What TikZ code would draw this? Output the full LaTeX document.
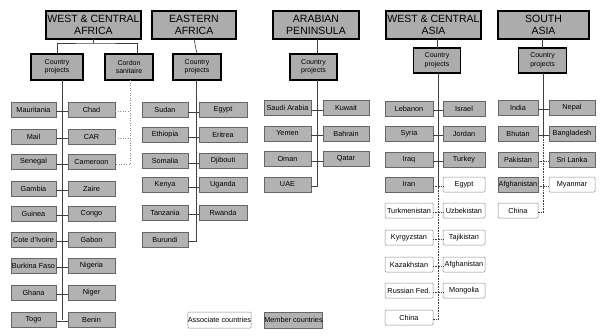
\documentclass[tikz,border=0pt]{standalone}
\usepackage{fontspec}
\setmainfont{Liberation Sans}
\begin{document}
\begin{tikzpicture}[x=1pt,y=-1pt,
  every node/.style={inner sep=0pt, outer sep=0pt},
  header/.style={draw=black, line width=1.4pt, fill=gray!65, align=center,
    minimum height=28pt, font=\fontsize{10.5}{11.5}\selectfont},
  cproj/.style={draw=black, line width=1.2pt, fill=gray!65, align=center,
    minimum height=26pt, font=\fontsize{7}{8.5}\selectfont},
  mem/.style={draw=black!60, line width=0.5pt, fill=gray!60, minimum height=15pt,
    font=\fontsize{7.3}{8}\selectfont},
  assoc/.style={draw=black!45, line width=0.5pt, fill=white, rounded corners=1pt,
    minimum height=15pt, font=\fontsize{7.3}{8}\selectfont},
  link/.style={draw=black!75, line width=0.6pt},
  dots/.style={draw=black!75, line width=0.6pt, densely dotted},
  lightdots/.style={draw=black!45, line width=0.5pt, dotted},
  ca/.style={minimum width=45pt}, cb/.style={minimum width=47pt},
  cc/.style={minimum width=46pt}, cd/.style={minimum width=48pt},
  ce/.style={minimum width=47pt}, cf/.style={minimum width=46pt},
  cg/.style={minimum width=48pt}, ch/.style={minimum width=42pt},
  ci/.style={minimum width=40pt}, cj/.style={minimum width=46pt}]
\useasboundingbox (0,0) rectangle (600,335);

% headers
\node[header, minimum width=95pt] (h1) at (93.5,25) {WEST \& CENTRAL\\AFRICA};
\node[header, minimum width=84pt] (h2) at (194,25) {EASTERN\\AFRICA};
\node[header, minimum width=86pt] (h3) at (316,25) {ARABIAN\\PENINSULA};
\node[header, minimum width=95pt] (h4) at (433.5,25) {WEST \& CENTRAL\\ASIA};
\node[header, minimum width=91pt] (h5) at (543.5,25) {SOUTH\\ASIA};

% country projects
\node[cproj, minimum width=52pt] (cp1) at (57,67) {Country\\projects};
\node[cproj, minimum width=48pt] (cs1) at (129,67) {Cordon\\sanitaire};
\node[cproj, minimum width=48pt] (cp2) at (197,67) {Country\\projects};
\node[cproj, minimum width=47pt] (cp3) at (313.5,67) {Country\\projects};
\node[cproj, minimum width=47pt, minimum height=25pt] (cp4) at (437,60.5) {Country\\projects};
\node[cproj, minimum width=48pt, minimum height=25pt] (cp5) at (542.5,60.5) {Country\\projects};

% West & Central Africa
\node[mem,ca] (mauritania) at (33.5,109.5) {Mauritania};
\node[mem,ca] (mail) at (33.5,136.5) {Mail};
\node[mem,ca] (senegal) at (33.5,162) {Senegal};
\node[mem,ca] (gambia) at (33.5,188.5) {Gambia};
\node[mem,ca] (guinea) at (33.5,213.5) {Guinea};
\node[mem,ca] (cote) at (33.5,239.5) {Cote d'Ivoire};
\node[mem,ca] (burkina) at (33.5,265.5) {Burkina Faso};
\node[mem,ca] (ghana) at (33.5,292.5) {Ghana};
\node[mem,ca] (togo) at (33.5,319.5) {Togo};
\node[mem,cb] (chad) at (91.5,109.5) {Chad};
\node[mem,cb] (car) at (91.5,136.5) {CAR};
\node[mem,cb] (cameroon) at (91.5,162) {Cameroon};
\node[mem,cb] (zaire) at (91.5,188.5) {Zaire};
\node[mem,cb] (congo) at (91.5,213.5) {Congo};
\node[mem,cb] (gabon) at (91.5,239.5) {Gabon};
\node[mem,cb] (nigeria) at (91.5,265.5) {Nigeria};
\node[mem,cb] (niger) at (91.5,292.5) {Niger};
\node[mem,cb] (benin) at (91.5,319.5) {Benin};

% Eastern Africa
\node[mem,cc] (sudan) at (165,110) {Sudan};
\node[mem,cc] (ethiopia) at (165,135) {Ethiopia};
\node[mem,cc] (somalia) at (165,161) {Somalia};
\node[mem,cc] (kenya) at (165,185) {Kenya};
\node[mem,cc] (tanzania) at (165,212.5) {Tanzania};
\node[mem,cc] (burundi) at (165,239.5) {Burundi};
\node[mem,cd] (egypt) at (223,110) {Egypt};
\node[mem,cd] (eritrea) at (223,135) {Eritrea};
\node[mem,cd] (djibouti) at (223,161) {Djibouti};
\node[mem,cd] (uganda) at (223,185) {Uganda};
\node[mem,cd] (rwanda) at (223,212.5) {Rwanda};

% Arabian Peninsula
\node[mem,ce] (saudi) at (287.5,108) {Saudi Arabia};
\node[mem,ce] (yemen) at (287.5,133.5) {Yemen};
\node[mem,ce] (oman) at (287.5,159) {Oman};
\node[mem,ce] (uae) at (287.5,184.5) {UAE};
\node[mem,cf] (kuwait) at (346,108) {Kuwait};
\node[mem,cf] (bahrain) at (346,133.5) {Bahrain};
\node[mem,cf] (qatar) at (346,159) {Qatar};

% West & Central Asia
\node[mem,cg] (lebanon) at (409,108.5) {Lebanon};
\node[mem,cg] (syria) at (409,133.5) {Syria};
\node[mem,cg] (iraq) at (409,159.5) {Iraq};
\node[mem,cg] (iran) at (409,184.5) {Iran};
\node[assoc,cg] (turkmenistan) at (409,210.5) {Turkmenistan};
\node[assoc,cg] (kyrgyzstan) at (409,237.5) {Kyrgyzstan};
\node[assoc,cg] (kazakhstan) at (409,264.5) {Kazakhstan};
\node[assoc,cg] (russia) at (409,290.5) {Russian Fed.};
\node[assoc,cg] (chinaA) at (409,317.5) {China};
\node[mem,ch] (israel) at (464,108.5) {Israel};
\node[mem,ch] (jordan) at (464,133.5) {Jordan};
\node[mem,ch] (turkey) at (464,159.5) {Turkey};
\node[assoc,ch] (egyptA) at (464,184.5) {Egypt};
\node[assoc,ch] (uzbekistan) at (464,210.5) {Uzbekistan};
\node[assoc,ch] (tajikistan) at (464,237.5) {Tajikistan};
\node[assoc,ch] (afghanA) at (464,264.5) {Afghanistan};
\node[assoc,ch] (mongolia) at (464,290.5) {Mongolia};

% South Asia
\node[mem,ci] (india) at (518,107.5) {India};
\node[mem,ci] (bhutan) at (518,133.5) {Bhutan};
\node[mem,ci] (pakistan) at (518,159.5) {Pakistan};
\node[mem,ci] (afghanS) at (518,184.5) {Afghanistan};
\node[assoc,ci] (chinaS) at (518,210.5) {China};
\node[mem,cj] (nepal) at (572,107.5) {Nepal};
\node[mem,cj] (bangladesh) at (572,133.5) {Bangladesh};
\node[mem,cj] (srilanka) at (572,159.5) {Sri Lanka};
\node[assoc,cj] (myanmar) at (572,184.5) {Myanmar};

% legend
\node[assoc, minimum width=57pt, minimum height=16pt] (legA) at (219.5,320) {Associate countries};
\node[mem, minimum width=57pt, minimum height=16pt] (legM) at (293.5,320) {Member countries};

% ---- connectors ----
% WCA
\coordinate (j1) at (93.5,43);
\draw[link] (h1.south) -- (j1);
\draw[link] (cp1.north) |- (j1) -| ([xshift=8pt]cs1.north);
\draw[link] ([xshift=5pt]cp1.south) -- ([xshift=5pt]cp1.south |- togo.east);
\foreach \a/\b in {mauritania/chad, mail/car, senegal/cameroon, gambia/zaire, guinea/congo,
  cote/gabon, burkina/nigeria, ghana/niger, togo/benin}
  \draw[link] ([yshift=-2pt]\a.east) -- ([yshift=-2pt]\b.west);
\draw[lightdots] ([xshift=1pt]cs1.south) -- ([xshift=1pt,yshift=-2pt]cs1.south |- cameroon.east) -- ([yshift=-2pt]cameroon.east);
\draw[lightdots] ([yshift=-2pt]chad.east) -- ([xshift=1pt,yshift=-2pt]cs1.south |- chad.east);
\draw[lightdots] ([yshift=-2pt]car.east) -- ([xshift=1pt,yshift=-2pt]cs1.south |- car.east);

% Eastern Africa
\draw[link] (h2.south) -- ([xshift=3pt]h2.south |- cp2.north);
\draw[link] ([xshift=-1pt]cp2.south) -- ([xshift=-1pt,yshift=-2pt]cp2.south |- burundi.east) -- ([yshift=-2pt]burundi.east);
\foreach \a/\b in {sudan/egypt, ethiopia/eritrea, somalia/djibouti, kenya/uganda, tanzania/rwanda}
  \draw[link] ([yshift=-2pt]\a.east) -- ([yshift=-2pt]\b.west);

% Arabian Peninsula
\draw[link] ([xshift=3.5pt]cp3.north) -- ([xshift=3.5pt]cp3.north |- h3.south);
\draw[link] ([xshift=3.5pt]cp3.south) -- ([xshift=3.5pt,yshift=-2pt]cp3.south |- uae.east) -- ([yshift=-2pt]uae.east);
\foreach \a/\b in {saudi/kuwait, yemen/bahrain, oman/qatar}
  \draw[link] ([yshift=-2pt]\a.east) -- ([yshift=-2pt]\b.west);

% West & Central Asia
\draw[link] (cp4.north) -- (cp4.north |- h4.south);
\draw[link] ([xshift=1pt]cp4.south) -- ([xshift=1pt,yshift=-2pt]cp4.south |- iran.east);
\draw[dots] ([xshift=1pt,yshift=-2pt]cp4.south |- iran.east) -- ([xshift=1pt,yshift=-2pt]cp4.south |- chinaA.east) -- ([yshift=-2pt]chinaA.east);
\foreach \a/\b in {lebanon/israel, syria/jordan, iraq/turkey}
  \draw[link] ([yshift=-2pt]\a.east) -- ([yshift=-2pt]\b.west);
\foreach \a/\b in {iran/egyptA, turkmenistan/uzbekistan, kyrgyzstan/tajikistan, kazakhstan/afghanA, russia/mongolia}
  \draw[dots] ([yshift=-2pt]\a.east) -- ([yshift=-2pt]\b.west);

% South Asia
\draw[link] (cp5.north) -- (cp5.north |- h5.south);
\draw[link] ([xshift=0.5pt]cp5.south) -- ([xshift=0.5pt,yshift=-2pt]cp5.south |- bhutan.east);
\draw[dots] ([xshift=0.5pt,yshift=-2pt]cp5.south |- bhutan.east) -- ([xshift=0.5pt,yshift=-2pt]cp5.south |- chinaS.east) -- ([yshift=-2pt]chinaS.east);
\foreach \a/\b in {india/nepal, bhutan/bangladesh}
  \draw[link] ([yshift=-2pt]\a.east) -- ([yshift=-2pt]\b.west);
\foreach \a/\b in {pakistan/srilanka, afghanS/myanmar}
  \draw[dots] ([yshift=-2pt]\a.east) -- ([yshift=-2pt]\b.west);
\end{tikzpicture}
\end{document}
